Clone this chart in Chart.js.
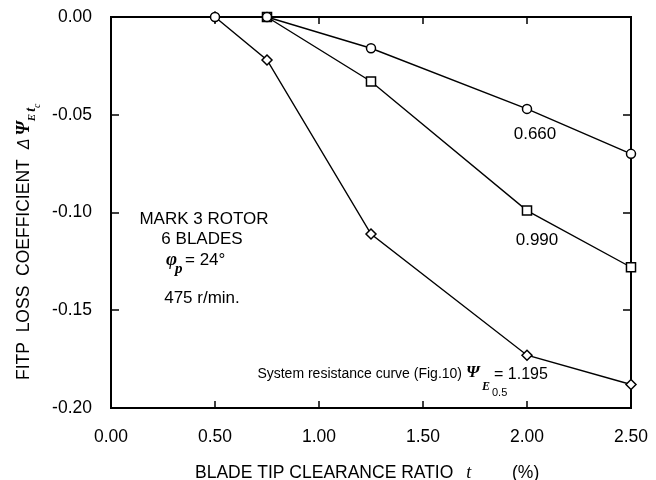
<!DOCTYPE html>
<html>
<head>
<meta charset="utf-8">
<script src="https://cdn.jsdelivr.net/npm/chart.js@4/dist/chart.umd.min.js"></script>
<style>
  html, body { margin: 0; padding: 0; background: #fff; }
  #wrap { width: 656px; height: 480px; }
</style>
</head>
<body>
<div id="wrap"><canvas id="c" width="656" height="480"></canvas></div>
<script>
// Blade tip clearance ratio t_c (%)
const clearance = [0.50, 0.75, 1.25, 2.00, 2.50];
// FITP loss coefficient for three system resistance curves
const loss0660 = [0, 0, -0.016, -0.047, -0.070];      // circles
const loss0990 = [null, 0, -0.033, -0.099, -0.128];   // squares
const loss1195 = [0, -0.022, -0.111, -0.173, -0.188]; // diamonds
const xTicks = [0, 0.5, 1.0, 1.5, 2.0, 2.5];
const yTicks = [0, -0.05, -0.10, -0.15, -0.20];

const SANS = '"Liberation Sans", Arial, Helvetica, sans-serif';
const SERIF = '"Liberation Serif", "Times New Roman", serif';

function pts(vals) {
  return clearance.map((x, i) => ({ x, y: vals[i] })).filter(p => p.y !== null);
}

function series(vals, style, radius) {
  return {
    data: pts(vals),
    borderColor: '#000',
    borderWidth: 1.4,
    backgroundColor: '#fff',
    pointStyle: style,
    pointRadius: radius,
    pointBorderWidth: 1.5,
    pointBackgroundColor: '#fff',
    pointBorderColor: '#000',
    tension: 0,
    clip: false
  };
}

// draws consecutive text runs, each with its own font and baseline shift
function runs(ctx, x, y, parts) {
  parts.forEach(p => {
    ctx.font = p.font;
    if (p.gap) x += p.gap;
    ctx.fillText(p.t, x, y + (p.dy || 0));
    x += ctx.measureText(p.t).width;
  });
}

const framePlugin = {
  id: 'frame',
  beforeDatasetsDraw(chart) {
    const { ctx, chartArea: a, scales: { x, y } } = chart;
    ctx.save();
    ctx.strokeStyle = '#000';
    ctx.lineWidth = 2;
    ctx.strokeRect(a.left, a.top, a.right - a.left, a.bottom - a.top);
    ctx.lineWidth = 1.5;
    ctx.beginPath();
    xTicks.slice(1, -1).forEach(v => {
      const px = Math.round(x.getPixelForValue(v));
      ctx.moveTo(px, a.bottom); ctx.lineTo(px, a.bottom - 7);
      ctx.moveTo(px, a.top); ctx.lineTo(px, a.top + 7);
    });
    yTicks.slice(1, -1).forEach(v => {
      const py = Math.round(y.getPixelForValue(v));
      ctx.moveTo(a.left, py); ctx.lineTo(a.left + 8, py);
      ctx.moveTo(a.right, py); ctx.lineTo(a.right - 8, py);
    });
    ctx.stroke();
    ctx.restore();
  },
  afterDraw(chart) {
    const { ctx } = chart;
    ctx.save();
    ctx.fillStyle = '#000';

    // y axis title
    ctx.save();
    ctx.translate(29, 380);
    ctx.rotate(-Math.PI / 2);
    ctx.textBaseline = 'alphabetic';
    ctx.textAlign = 'left';
    runs(ctx, 0, 0, [
      { t: 'FITP  LOSS  COEFFICIENT', font: `17.5px ${SANS}` },
      { t: '\u0394', font: `italic 16px ${SANS}`, gap: 10 },
      { t: '\u03A8', font: `bold italic 18px ${SERIF}`, gap: 3 },
      { t: 'E', font: `italic bold 11px ${SERIF}`, dy: 6 },
      { t: 't', font: `italic bold 14px ${SERIF}`, dy: 6, gap: 2 },
      { t: 'c', font: `italic 10px ${SERIF}`, dy: 11 }
    ]);
    ctx.restore();

    // x axis title
    ctx.textBaseline = 'alphabetic';
    ctx.textAlign = 'left';
    runs(ctx, 195, 478, [
      { t: 'BLADE TIP CLEARANCE RATIO', font: `17.5px ${SANS}` },
      { t: 't', font: `italic 18px ${SERIF}`, gap: 13 }
    ]);
    ctx.font = `italic 11px ${SERIF}`;
    ctx.fillText('c', 478, 487);
    ctx.font = `17.5px ${SANS}`;
    ctx.fillText('(%)', 512, 478);

    // rotor description
    ctx.textAlign = 'center';
    ctx.textBaseline = 'middle';
    ctx.font = `17px ${SANS}`;
    ctx.fillText('MARK 3 ROTOR', 204, 219);
    ctx.fillText('6 BLADES', 202, 239);
    ctx.fillText('475 r/min.', 202, 298);
    ctx.textAlign = 'left';
    ctx.textBaseline = 'alphabetic';
    ctx.font = `bold italic 19px ${SERIF}`;
    ctx.fillText('\u03C6', 166, 265);
    ctx.font = `bold italic 15px ${SERIF}`;
    ctx.fillText('p', 175, 273);
    ctx.font = `17px ${SANS}`;
    ctx.fillText('= 24\u00B0', 185, 265);

    // curve labels
    ctx.textAlign = 'center';
    ctx.textBaseline = 'middle';
    ctx.font = `17px ${SANS}`;
    ctx.fillText('0.660', 535, 134);
    ctx.fillText('0.990', 537, 240);

    // system resistance note
    ctx.textAlign = 'right';
    ctx.font = `14px ${SANS}`;
    ctx.fillText('System resistance curve (Fig.10)', 462, 374);
    ctx.textAlign = 'left';
    ctx.textBaseline = 'alphabetic';
    ctx.font = `bold italic 17px ${SERIF}`;
    ctx.fillText('\u03A8', 466, 377);
    ctx.font = `italic bold 12px ${SERIF}`;
    ctx.fillText('E', 482, 390);
    ctx.font = `11px ${SANS}`;
    ctx.fillText('0.5', 492, 396);
    ctx.font = `16px ${SANS}`;
    ctx.fillText('= 1.195', 494, 379);

    ctx.restore();
  }
};

new Chart(document.getElementById('c'), {
  type: 'line',
  data: {
    datasets: [
      series(loss0660, 'circle', 4.5),
      series(loss0990, 'rect', 6.4),
      series(loss1195, 'rectRot', 5)
    ]
  },
  options: {
    responsive: false,
    animation: false,
    devicePixelRatio: 1,
    layout: { padding: { top: 17, right: 25, left: 0, bottom: 0 } },
    plugins: { legend: { display: false }, tooltip: { enabled: false } },
    scales: {
      x: {
        type: 'linear',
        min: 0, max: 2.5,
        afterBuildTicks: s => { s.ticks = xTicks.map(v => ({ value: v })); },
        afterFit: s => { s.height = 72; s.paddingLeft = 0; s.paddingRight = 0; },
        grid: { display: false },
        border: { display: false },
        ticks: {
          color: '#000',
          padding: 11,
          maxRotation: 0,
          font: { family: SANS, size: 17.5 },
          callback: v => Number(v).toFixed(2)
        }
      },
      y: {
        type: 'linear',
        min: -0.2, max: 0,
        afterBuildTicks: s => { s.ticks = yTicks.map(v => ({ value: v })); },
        afterFit: s => { s.width = 111; s.paddingTop = 0; s.paddingBottom = 0; },
        grid: { display: false },
        border: { display: false },
        ticks: {
          color: '#000',
          padding: 11,
          font: { family: SANS, size: 17.5 },
          callback: v => Number(v).toFixed(2)
        }
      }
    }
  },
  plugins: [framePlugin]
});
</script>
</body>
</html>
